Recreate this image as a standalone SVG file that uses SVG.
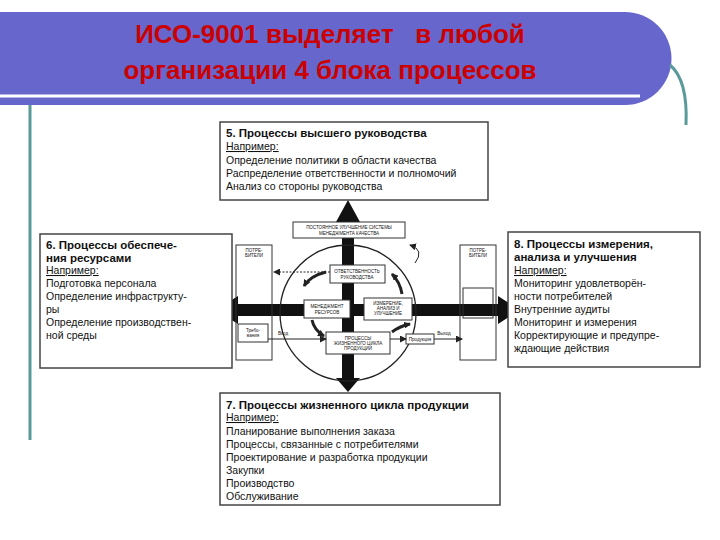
<svg xmlns="http://www.w3.org/2000/svg" width="720" height="540" viewBox="0 0 720 540">
<style>
.t{font-family:"Liberation Sans",Arial,sans-serif;font-size:10.5px;fill:#111}
.b{font-weight:bold;font-size:11.5px}
.s{font-family:"Liberation Sans",Arial,sans-serif;font-size:4.5px;fill:#111;text-anchor:middle}
.box{fill:#fff;stroke:#444;stroke-width:1.5}
.thin{fill:#fff;stroke:#333;stroke-width:1}
</style>
<defs>
<marker id="ar" markerUnits="userSpaceOnUse" markerWidth="7" markerHeight="7" refX="6" refY="3.5" orient="auto"><path d="M0,0L7,3.5L0,7Z" fill="#222"/></marker>
</defs>
<rect width="720" height="540" fill="#fff"/>
<g id="banner">
<path d="M0,12H625A45,45 0 0 1 625,105H0Z" fill="#6666cc"/>
<line x1="0" y1="96" x2="640" y2="96" stroke="#fff" stroke-width="3"/>
<path d="M30,105V440" stroke="#5a9a9a" stroke-width="3" fill="none"/>
<path d="M670,65Q688,80 686,125" stroke="#5a9a9a" stroke-width="3" fill="none"/>
<text x="330" y="43" text-anchor="middle" font-family="Liberation Sans,Arial,sans-serif" font-weight="bold" font-size="26" fill="#cc0000" xml:space="preserve">ИСО-9001 выделяет   в любой</text>
<text x="330" y="79" text-anchor="middle" font-family="Liberation Sans,Arial,sans-serif" font-weight="bold" font-size="26" fill="#cc0000">организации 4 блока процессов</text>
</g>
<g id="bigarrows" fill="#111" stroke="none">
<polygon points="342,385 342,222 336,222 348,200 360,222 354,222 354,385"/>
<polygon points="238,304 498,304 498,296 520,310 498,324 498,316 238,316 238,324 216,310 238,296"/>
<polygon points="343,362 353,362 353,378 360,378 348,392 336,378 343,378"/>
</g>
<g id="inner">
<rect x="236" y="245" width="36" height="115" fill="none" stroke="#333"/>
<text x="254" y="252" class="s">ПОТРЕ-</text><text x="254" y="257" class="s">БИТЕЛИ</text>
<rect x="238" y="324" width="30" height="18" class="thin"/>
<text x="253" y="332" class="s">Требо-</text><text x="253" y="337" class="s">вания</text>
<rect x="460" y="245" width="36" height="115" fill="none" stroke="#333"/>
<text x="478" y="252" class="s">ПОТРЕ-</text><text x="478" y="257" class="s">БИТЕЛИ</text>
<rect x="463" y="288" width="30" height="30" fill="none" stroke="#333"/>
<circle cx="348" cy="313" r="68" fill="none" stroke="#222" stroke-width="1.3"/>
<rect x="293" y="222" width="112" height="16" class="thin"/>
<text x="349" y="229" class="s">ПОСТОЯННОЕ УЛУЧШЕНИЕ СИСТЕМЫ</text><text x="349" y="235" class="s">МЕНЕДЖМЕНТА КАЧЕСТВА</text>
<rect x="330" y="265" width="55" height="18" class="thin"/>
<text x="357" y="273" class="s">ОТВЕТСТВЕННОСТЬ</text><text x="357" y="279" class="s">РУКОВОДСТВА</text>
<rect x="304" y="300" width="46" height="18" class="thin"/>
<text x="327" y="308" class="s">МЕНЕДЖМЕНТ</text><text x="327" y="314" class="s">РЕСУРСОВ</text>
<rect x="364" y="298" width="48" height="22" class="thin"/>
<text x="388" y="305" class="s">ИЗМЕРЕНИЕ,</text><text x="388" y="310" class="s">АНАЛИЗ И</text><text x="388" y="315" class="s">УЛУЧШЕНИЕ</text>
<rect x="326" y="332" width="64" height="22" class="thin"/>
<text x="358" y="340" class="s">ПРОЦЕССЫ</text><text x="358" y="345" class="s">ЖИЗНЕННОГО ЦИКЛА</text><text x="358" y="350" class="s">ПРОДУКЦИИ</text>
<rect x="406" y="334" width="28" height="10" class="thin"/>
<text x="420" y="341" class="s">Продукция</text>
<text x="283" y="335" class="s">Вход</text><text x="444" y="335" class="s">Выход</text>
</g>
<g id="connectors" fill="none" stroke="#222">
<line x1="268" y1="339" x2="326" y2="339" marker-end="url(#ar)"/>
<line x1="390" y1="339" x2="406" y2="339" marker-end="url(#ar)"/>
<line x1="434" y1="339" x2="462" y2="339" marker-end="url(#ar)"/>
<line x1="330" y1="272" x2="274" y2="272" stroke-dasharray="2,1.5" marker-end="url(#ar)"/>
<path d="M326,272Q310,276 304,286" stroke-width="3" marker-end="url(#ar)"/>
<path d="M312,320Q314,330 324,336" stroke-width="3" marker-end="url(#ar)"/>
<path d="M392,332Q400,326 410,324" stroke-width="3" marker-end="url(#ar)"/>
<path d="M402,294Q400,282 392,274" stroke-width="3" marker-end="url(#ar)"/>
<path d="M415,263Q425,250 410,245" marker-end="url(#ar)"/>
</g>
<g id="top">
<rect x="220" y="122" width="268" height="78" class="box"/>
<text x="226" y="137" class="t b">5. Процессы высшего руководства</text>
<text x="226" y="150" class="t" text-decoration="underline">Например:</text>
<text x="226" y="164" class="t">Определение политики в области качества</text>
<text x="226" y="177" class="t">Распределение ответственности и полномочий</text>
<text x="226" y="190" class="t">Анализ со стороны руководства</text>
</g>
<g id="left">
<rect x="40" y="234" width="192" height="134" class="box"/>
<text x="46" y="249" class="t b">6. Процессы обеспече-</text>
<text x="46" y="262" class="t b">ния ресурсами</text>
<text x="46" y="274" class="t" text-decoration="underline">Например:</text>
<text x="46" y="287" class="t">Подготовка персонала</text>
<text x="46" y="300" class="t">Определение инфраструкту-</text>
<text x="46" y="313" class="t">ры</text>
<text x="46" y="326" class="t">Определение производствен-</text>
<text x="46" y="339" class="t">ной среды</text>
</g>
<g id="right">
<rect x="508" y="232" width="192" height="135" class="box"/>
<text x="514" y="248" class="t b">8. Процессы измерения,</text>
<text x="514" y="261" class="t b">анализа и улучшения</text>
<text x="514" y="274" class="t" text-decoration="underline">Например:</text>
<text x="514" y="287" class="t">Мониторинг удовлетворён-</text>
<text x="514" y="300" class="t">ности потребителей</text>
<text x="514" y="313" class="t">Внутренние аудиты</text>
<text x="514" y="326" class="t">Мониторинг и измерения</text>
<text x="514" y="339" class="t">Корректирующие и предупре-</text>
<text x="514" y="352" class="t">ждающие действия</text>
</g>
<g id="bottom">
<rect x="220" y="393" width="280" height="112" class="box"/>
<text x="226" y="409" class="t b">7. Процессы жизненного цикла продукции</text>
<text x="226" y="421" class="t" text-decoration="underline">Например:</text>
<text x="226" y="435" class="t">Планирование выполнения заказа</text>
<text x="226" y="448" class="t">Процессы, связанные с потребителями</text>
<text x="226" y="461" class="t">Проектирование и разработка продукции</text>
<text x="226" y="474" class="t">Закупки</text>
<text x="226" y="487" class="t">Производство</text>
<text x="226" y="500" class="t">Обслуживание</text>
</g>
</svg>
